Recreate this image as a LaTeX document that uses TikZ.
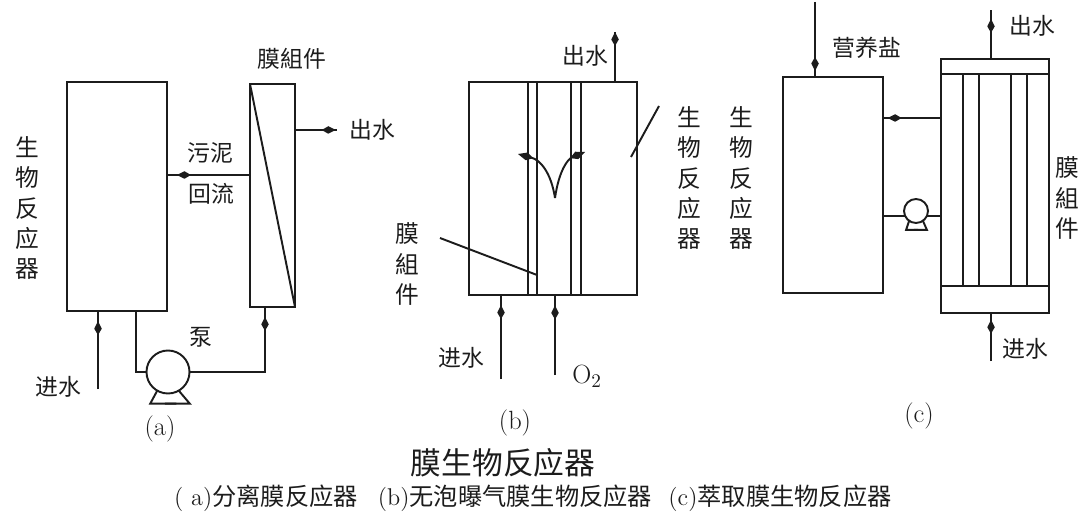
\documentclass[tikz,border=0pt]{standalone}
\usepackage{fontspec}
\usepackage{xcolor}
\usepackage{tikz}
\usetikzlibrary{positioning, calc, arrows.meta, decorations.markings}
\newfontfamily\cjk{Noto Sans CJK SC}
\definecolor{inkc}{HTML}{1C1C1C}
\tikzset{
  vessel/.style={draw=inkc, line width=1.1pt, inner sep=0pt, outer sep=0pt},
  pumpbody/.style={draw=inkc, line width=1.1pt, circle, inner sep=0pt, outer sep=0pt},
  pipe/.style={draw=inkc, line width=1.1pt},
  flowmark/.style={pipe, postaction={decorate}, decoration={markings,
      mark=at position #1 with {\arrow[inkc]{Kite[length=2.8mm, width=1.5mm, inset=1.3mm]}}}},
  lbl/.style={text=inkc, inner sep=0pt, font=\cjk\fontsize{13pt}{15pt}\selectfont},
  vlbl/.style={text=inkc, inner sep=0pt, align=center, font=\cjk\fontsize{13.5pt}{17.2pt}\selectfont},
  sublbl/.style={text=inkc, inner sep=0pt, font=\cjk\fontsize{13.8pt}{16pt}\selectfont},
}
\newcommand{\latn}[1]{{\normalfont #1}}
\begin{document}
\begin{tikzpicture}[x=0.2mm, y=-0.2mm]
    \useasboundingbox (0,0) rectangle (1090,525);

    % Panel (a)
    \node[vessel, minimum width=20mm, minimum height=45.8mm] (reactorA) at (117,196.5) {};
    \node[vessel, minimum width=9mm, minimum height=44.6mm] (moduleA) at (272.5,195.5) {};
    \node[pumpbody, minimum size=8.6mm] (pumpA) at (168,372) {};
    \draw[pipe] (moduleA.north west) -- (moduleA.south east);
    \coordinate (inA) at (98,389);
    \coordinate (outA) at (337,130);
    \coordinate (drainA) at (136,372);
    \coordinate (riseA) at (265,372);
    \draw[flowmark=0.87] (inA) -- (inA |- reactorA.south);
    \draw[flowmark=0.88] (moduleA.west |- 0,175) -- (reactorA.east |- 0,175);
    \draw[flowmark=0.97] (moduleA.east |- outA) -- (outA);
    \draw[pipe] (drainA |- reactorA.south) -- (drainA) -- (pumpA.west);
    \draw[flowmark=0.93] (pumpA.east) -- (riseA) -- (riseA |- moduleA.south);
    \draw[pipe] (pumpA.-120) -- ++(-7,13) -- ++(26,0);
    \draw[pipe] (pumpA.-60) -- ++(11,13) -- ++(-25,0);
    \node[vlbl] (reactorlblA) at (27,208) {生\\物\\反\\应\\器};
    \node[lbl] (modulelblA) at (292,59) {膜組件};
    \node[lbl] (outlblA) at (372,130) {出水};
    \node[lbl] (sludgeA) at (210,153) {污泥};
    \node[lbl] (returnA) at (211,194) {回流};
    \node[lbl] (pumplblA) at (201,337) {泵};
    \node[lbl] (inlblA) at (58,387) {进水};
    \node[lbl, font=\fontsize{15pt}{17pt}\selectfont] (capA) at (160,429) {\latn{(a)}};

    % Panel (b)
    \node[vessel, minimum width=33.6mm, minimum height=42.6mm] (reactorB) at (553,188.5) {};
    \foreach \px in {528,537,571,581}
      \draw[pipe] (\px,0 |- reactorB.north) -- (\px,0 |- reactorB.south);
    \coordinate (outB) at (615,32);
    \coordinate (inB) at (501,379);
    \coordinate (gasB) at (555,375);
    \coordinate (fanB) at (555,198);
    \coordinate (tipLB) at (518,154);
    \coordinate (tipRB) at (585,152);
    \coordinate (leadRB) at (659,106);
    \coordinate (leadLB) at (440,238);
    \draw[flowmark=1] (outB |- reactorB.north) -- (outB);
    \draw[flowmark=0.88] (inB) -- (inB |- reactorB.south);
    \draw[flowmark=0.87] (gasB) -- (gasB |- reactorB.south);
    \draw[pipe, -{Kite[length=3.2mm, width=1.6mm, inset=1.4mm]}] (fanB) .. controls (551,172) and (540,160) .. (tipLB);
    \draw[pipe, -{Kite[length=3.2mm, width=1.6mm, inset=1.4mm]}] (fanB) .. controls (559,170) and (568,159) .. (tipRB);
    \draw[pipe] (leadRB) -- (631,157);
    \draw[pipe] (leadLB) -- (537,275);
    \node[lbl] (outlblB) at (585,56) {出水};
    \node[vlbl] (reactorlblB) at (689,178) {生\\物\\反\\应\\器};
    \node[vlbl] (modulelblB) at (407,264) {膜\\組\\件};
    \node[lbl] (inlblB) at (461,358) {进水};
    \node[lbl, font=\fontsize{15pt}{17pt}\selectfont] (gaslblB) at (587,376) {\latn{O$_2$}};
    \node[lbl, font=\fontsize{15pt}{17pt}\selectfont] (capB) at (515,423) {\latn{(b)}};

    % Panel (c)
    \node[vessel, minimum width=20mm, minimum height=43.2mm] (reactorC) at (833,185) {};
    \node[vessel, minimum width=21.6mm, minimum height=50.8mm] (moduleC) at (995,186) {};
    \node[pumpbody, minimum size=4.8mm] (pumpC) at (916,211) {};
    \draw[pipe] (moduleC.west |- 0,74) -- (moduleC.east |- 0,74);
    \draw[pipe] (moduleC.west |- 0,286) -- (moduleC.east |- 0,286);
    \foreach \px in {963,979,1011,1027}
      \draw[pipe] (\px,74) -- (\px,286);
    \coordinate (feedC) at (815,2);
    \coordinate (outC) at (991,10);
    \coordinate (inC) at (991,361);
    \draw[flowmark=0.92] (feedC) -- (feedC |- reactorC.north);
    \draw[flowmark=0.82] (outC |- moduleC.north) -- (outC);
    \draw[flowmark=0.86] (inC) -- (inC |- moduleC.south);
    \draw[flowmark=0.92] (moduleC.west |- 0,118) -- (reactorC.east |- 0,118);
    \draw[pipe] (reactorC.east |- pumpC.205) -- (pumpC.205);
    \draw[pipe] (pumpC.-25) -- (moduleC.west |- pumpC.-25);
    \draw[pipe] (pumpC.-125) -- ++(-3,9) -- ++(12,0);
    \draw[pipe] (pumpC.-55) -- ++(4,9) -- ++(-13,0);
    \node[lbl] (feedlblC) at (867,48) {营养盐};
    \node[lbl] (outlblC) at (1032,26) {出水};
    \node[lbl] (inlblC) at (1025,349) {进水};
    \node[vlbl] (reactorlblC) at (741,178) {生\\物\\反\\应\\器};
    \node[vlbl] (modulelblC) at (1067,198) {膜\\組\\件};
    \node[lbl, font=\fontsize{15pt}{17pt}\selectfont] (capC) at (919,416) {\latn{(c)}};

    % Captions
    \node[text=inkc, inner sep=0pt, font=\cjk\fontsize{17.5pt}{20pt}\selectfont] (title) at (503,463) {膜生物反应器};
    \node[sublbl] (subA) at (266,498) {\latn{( a)}分离膜反应器};
    \node[sublbl] (subB) at (515,498) {\latn{(b)}无泡曝气膜生物反应器};
    \node[sublbl] (subC) at (780,498) {\latn{(c)}萃取膜生物反应器};
\end{tikzpicture}
\end{document}
